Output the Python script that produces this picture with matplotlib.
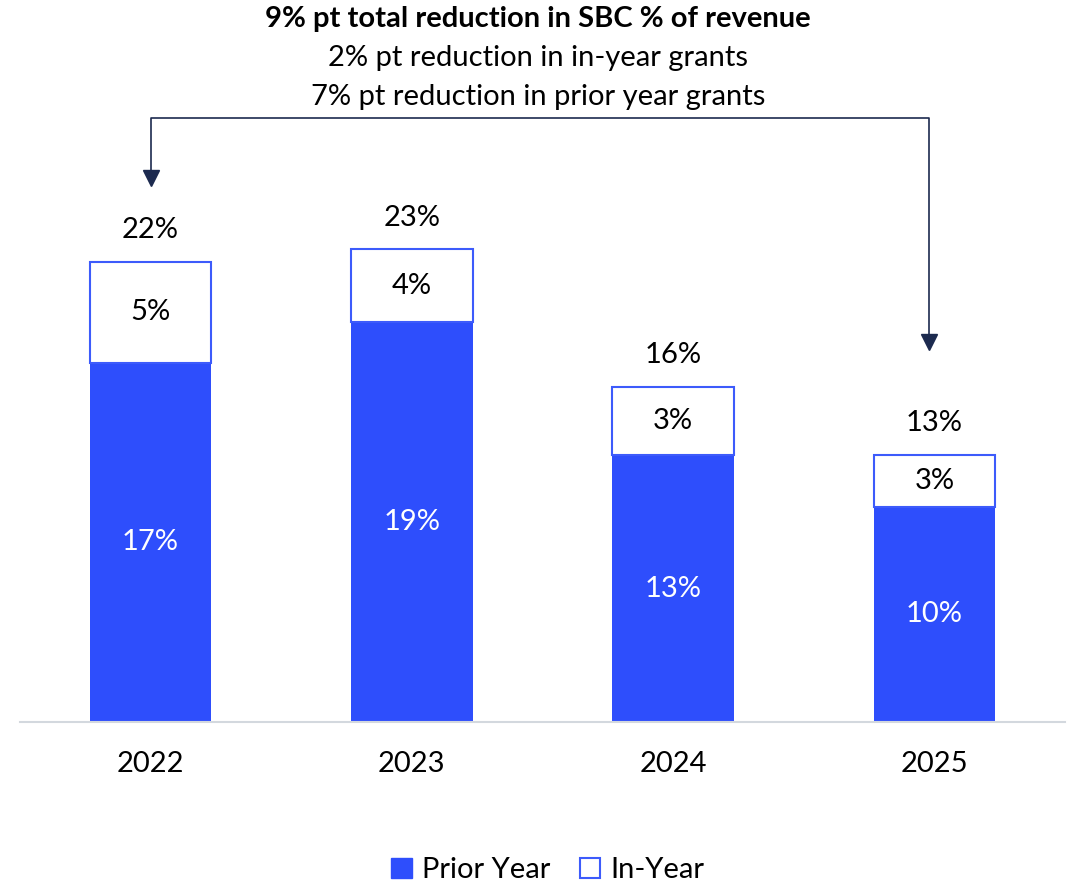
import matplotlib.pyplot as plt
from matplotlib.patches import Patch

plt.rcParams['font.family'] = ['Lato', 'DejaVu Sans']

# SBC as % of revenue, split by grant year
years = ["2022", "2023", "2024", "2025"]
prior_year = [17.45, 19.4, 12.96, 10.45]
in_year = [4.9, 3.54, 3.3, 2.52]

title_lines = [
    "9% pt total reduction in SBC % of revenue",
    "2% pt reduction in in-year grants",
    "7% pt reduction in prior year grants",
]

blue = "#2e4efc"
edge_blue = "#3d5bfb"
navy = "#1c2a4f"

fig = plt.figure(figsize=(10.68, 8.82), dpi=100)
ax = fig.add_axes([0.0187, 0.1814, 0.9785, 0.8186])

x = list(range(len(years)))
width = 0.465
totals = [p + i for p, i in zip(prior_year, in_year)]

ax.bar(x, prior_year, width, color=blue, edgecolor=blue, linewidth=0)
ax.bar(x, in_year, width, bottom=prior_year, color="white",
       edgecolor=edge_blue, linewidth=1.5)

for xi, p, i, t in zip(x, prior_year, in_year, totals):
    ax.text(xi, p / 2, f"{p:.0f}%", ha="center", va="center",
            color="white", fontsize=21)
    ax.text(xi, p + i / 2, f"{i:.0f}%", ha="center", va="center",
            color="black", fontsize=21)
    ax.annotate(f"{t:.0f}%", (xi, t), xytext=(0, 23), textcoords="offset points",
                ha="center", va="center", fontsize=21)

# bracket arrow from first to last year
y_top = 29.32
ax.plot([x[0], x[0], x[-1] - 0.02, x[-1] - 0.02],
        [26.5, y_top, y_top, 18.6], color=navy, linewidth=1.2)
ax.plot([x[0]], [26.4], marker="v", markersize=12, color=navy)
ax.plot([x[-1] - 0.02], [18.45], marker="v", markersize=12, color=navy)

ax.set_xlim(-0.5, 3.5)
ax.set_ylim(0, 35.05)
ax.set_xticks(x)
ax.set_xticklabels(years, fontsize=21)
ax.tick_params(axis="x", length=0, pad=21)
ax.set_yticks([])
for side in ["top", "right", "left"]:
    ax.spines[side].set_visible(False)
ax.spines["bottom"].set_color("#d3d8de")
ax.spines["bottom"].set_linewidth(1.5)

fig.text(0.504, 0.979, title_lines[0], ha="center", va="center",
         fontsize=21, fontweight="bold")
fig.text(0.504, 0.934, title_lines[1], ha="center", va="center", fontsize=21)
fig.text(0.504, 0.890, title_lines[2], ha="center", va="center", fontsize=21)

handles = [Patch(facecolor=blue, edgecolor=blue, label="Prior Year"),
           Patch(facecolor="white", edgecolor=edge_blue, linewidth=1.5, label="In-Year")]
fig.legend(handles=handles, loc="lower center", bbox_to_anchor=(0.513, -0.031),
           ncol=2, frameon=False, fontsize=21, handlelength=0.7, handleheight=0.7,
           handletextpad=0.35, columnspacing=1.0)

fig.savefig("out.png", dpi=100)
